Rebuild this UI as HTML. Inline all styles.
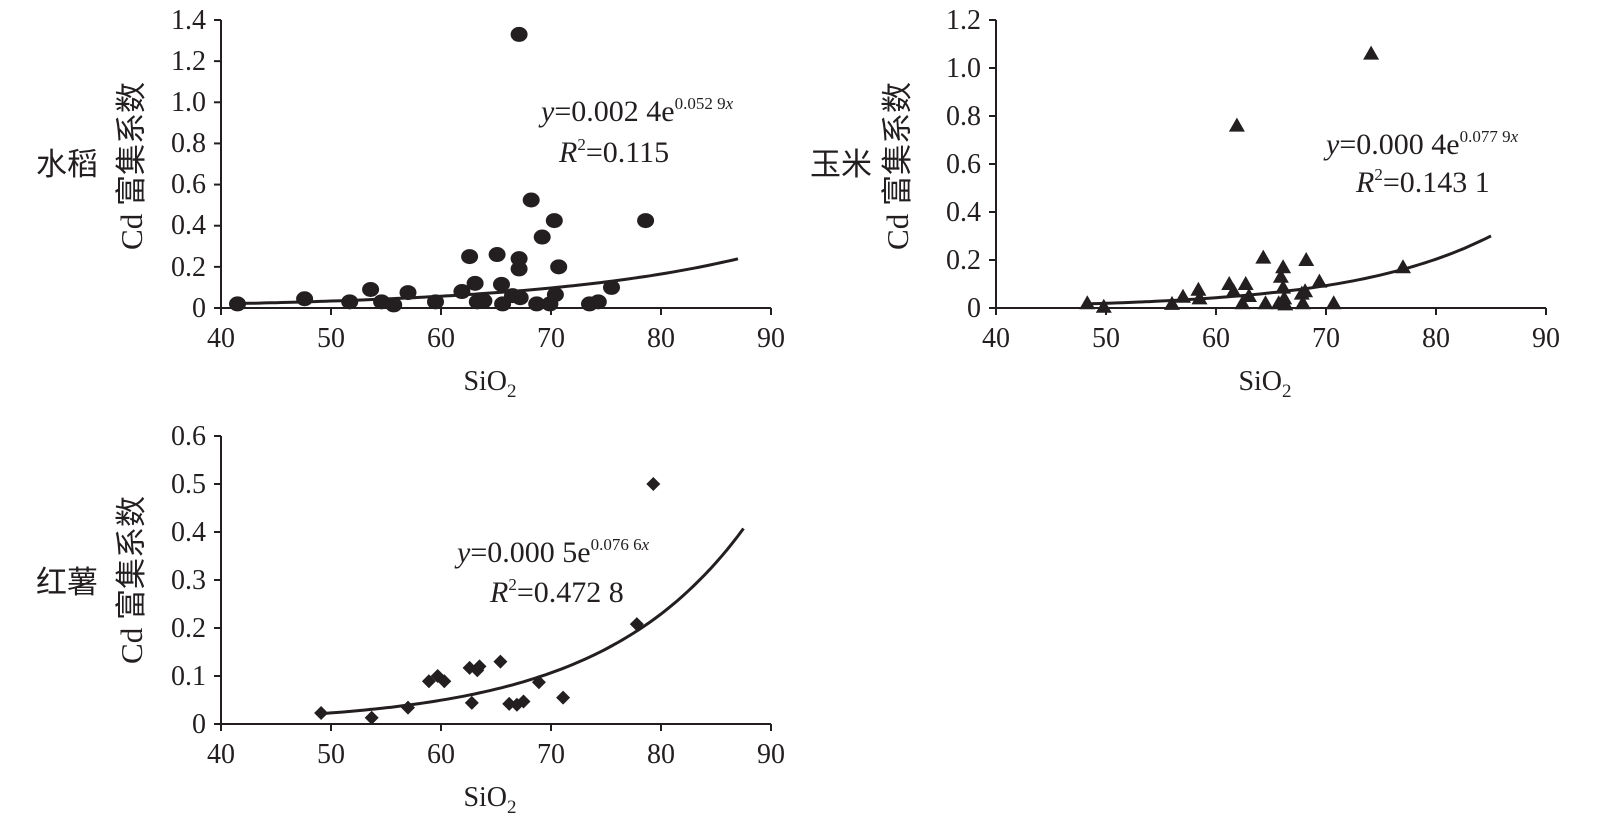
<!DOCTYPE html>
<html><head><meta charset="utf-8"><style>
html,body{margin:0;padding:0;background:#fff;}
svg{display:block;}
text{font-family:"Liberation Serif","Noto Serif CJK SC",serif;fill:#231f20;}
.t{font-size:28px;}
.e{font-size:30px;}
.c{font-family:"Liberation Serif","Noto Sans CJK SC",sans-serif;font-size:31px;}
</style></head><body>
<svg id="s" width="1600" height="823" viewBox="0 0 1600 823" xmlns="http://www.w3.org/2000/svg">
<g id="g"></g>
<g class="t" text-anchor="end">
<text x="206" y="29">1.4</text><text x="206" y="70">1.2</text><text x="206" y="111">1.0</text><text x="206" y="152">0.8</text><text x="206" y="193">0.6</text><text x="206" y="234">0.4</text><text x="206" y="276">0.2</text><text x="206" y="317">0</text>
</g>
<g class="t" text-anchor="middle">
<text x="221" y="347">40</text><text x="331" y="347">50</text><text x="441" y="347">60</text><text x="551" y="347">70</text><text x="661" y="347">80</text><text x="771" y="347">90</text>
<text x="490" y="390">SiO<tspan font-size="19" dy="7">2</tspan></text>
</g>
<text class="c" transform="translate(142,166) rotate(-90)" text-anchor="middle">Cd 富集系数</text>
<text class="c" x="36" y="175">水稻</text>
<text class="e" x="541" y="121"><tspan font-style="italic">y</tspan>=0.002 4e<tspan font-size="17" dy="-12">0.052 9<tspan font-style="italic">x</tspan></tspan></text>
<text class="e" x="559" y="162"><tspan font-style="italic">R</tspan><tspan font-size="17" dy="-12">2</tspan><tspan dy="12">=0.115</tspan></text>
<g class="t" text-anchor="end">
<text x="981" y="29">1.2</text><text x="981" y="77">1.0</text><text x="981" y="125">0.8</text><text x="981" y="173">0.6</text><text x="981" y="221">0.4</text><text x="981" y="269">0.2</text><text x="981" y="317">0</text>
</g>
<g class="t" text-anchor="middle">
<text x="996" y="347">40</text><text x="1106" y="347">50</text><text x="1216" y="347">60</text><text x="1326" y="347">70</text><text x="1436" y="347">80</text><text x="1546" y="347">90</text>
<text x="1265" y="390">SiO<tspan font-size="19" dy="7">2</tspan></text>
</g>
<text class="c" transform="translate(908,166) rotate(-90)" text-anchor="middle">Cd 富集系数</text>
<text class="c" x="810" y="175">玉米</text>
<text class="e" x="1326" y="154"><tspan font-style="italic">y</tspan>=0.000 4e<tspan font-size="17" dy="-12">0.077 9<tspan font-style="italic">x</tspan></tspan></text>
<text class="e" x="1356" y="192"><tspan font-style="italic">R</tspan><tspan font-size="17" dy="-12">2</tspan><tspan dy="12">=0.143 1</tspan></text>
<g class="t" text-anchor="end">
<text x="206" y="445">0.6</text><text x="206" y="493">0.5</text><text x="206" y="541">0.4</text><text x="206" y="589">0.3</text><text x="206" y="637">0.2</text><text x="206" y="685">0.1</text><text x="206" y="733">0</text>
</g>
<g class="t" text-anchor="middle">
<text x="221" y="763">40</text><text x="331" y="763">50</text><text x="441" y="763">60</text><text x="551" y="763">70</text><text x="661" y="763">80</text><text x="771" y="763">90</text>
<text x="490" y="806">SiO<tspan font-size="19" dy="7">2</tspan></text>
</g>
<text class="c" transform="translate(142,580) rotate(-90)" text-anchor="middle">Cd 富集系数</text>
<text class="c" x="36" y="593">红薯</text>
<text class="e" x="457" y="562"><tspan font-style="italic">y</tspan>=0.000 5e<tspan font-size="17" dy="-12">0.076 6<tspan font-style="italic">x</tspan></tspan></text>
<text class="e" x="490" y="602"><tspan font-style="italic">R</tspan><tspan font-size="17" dy="-12">2</tspan><tspan dy="12">=0.472 8</tspan></text>
</svg>
<script>
var g=document.getElementById('g'),h='';
function axes(x0,x1,y0,y1,nt){
 h+='<path d="M'+x0+' '+y1+'V'+y0+'H'+x1+'" stroke="#231f20" stroke-width="2" fill="none"/>';
 for(var i=0;i<=5;i++){var x=x0+i*110;h+='<line x1="'+x+'" y1="'+y0+'" x2="'+x+'" y2="'+(y0+7)+'" stroke="#231f20" stroke-width="2"/>';}
 for(var j=0;j<=nt;j++){var y=y0-(y0-y1)*j/nt;h+='<line x1="'+(x0-7)+'" y1="'+y+'" x2="'+x0+'" y2="'+y+'" stroke="#231f20" stroke-width="2"/>';}
}
axes(221,771,308,20,7);axes(996,1546,308,20,6);axes(221,771,724,436,6);
function curve(X,Y,a,b,lo,hi){var d='';for(var v=lo;v<=hi+0.001;v+=0.5){d+=(d?'L':'M')+X(v).toFixed(1)+' '+Y(a*Math.exp(b*v)).toFixed(1);}h+='<path d="'+d+'" stroke="#231f20" stroke-width="3" fill="none"/>';}
var X1=function(v){return 221+(v-40)*11},Y1=function(v){return 308-v/1.4*288};
var X2=function(v){return 996+(v-40)*11},Y2=function(v){return 308-v/1.2*288};
var Y3=function(v){return 724-v/0.6*288};
var p1=[[41.5,.02],[47.6,.045],[51.7,.03],[53.6,.09],[54.6,.03],[55.7,.015],[57,.075],[59.5,.03],[61.9,.08],[62.6,.25],[63.1,.12],[63.3,.03],[63.9,.035],[65.1,.26],[65.5,.115],[65.6,.02],[66.5,.06],[67.1,.24],[67.1,.19],[67.1,1.33],[67.2,.05],[68.2,.525],[68.7,.02],[69.2,.345],[69.9,.02],[70.3,.425],[70.4,.065],[70.7,.2],[73.5,.02],[74.3,.03],[75.5,.1],[78.6,.425]];
p1.forEach(function(p){h+='<ellipse cx="'+X1(p[0])+'" cy="'+Y1(p[1])+'" rx="8.5" ry="7.5" fill="#231f20"/>';});
curve(X1,Y1,0.0024,0.0529,41,87);
var p2=[[48.3,.02],[49.8,.005],[56,.017],[57,.047],[58.4,.076],[58.5,.04],[61.2,.1],[61.9,.76],[61.6,.07],[62.7,.1],[62.4,.02],[63,.05],[64.3,.21],[64.5,.02],[65.7,.02],[65.9,.13],[66.1,.17],[66.1,.085],[66.2,.04],[66.3,.015],[67.8,.06],[67.9,.02],[68.2,.2],[68.1,.07],[69.4,.11],[70.7,.02],[74.1,1.06],[77,.17]];
p2.forEach(function(p){var x=X2(p[0]),y=Y2(p[1]);h+='<path d="M'+x+' '+(y-8)+'L'+(x+8)+' '+(y+6)+'L'+(x-8)+' '+(y+6)+'Z" fill="#231f20"/>';});
curve(X2,Y2,0.0004,0.0779,48,85);
var p3=[[49.1,.023],[53.7,.013],[57,.034],[58.9,.089],[59.7,.1],[60.3,.089],[62.6,.117],[62.8,.044],[63.3,.112],[63.5,.12],[65.4,.13],[66.2,.042],[66.9,.04],[67.5,.047],[68.9,.087],[71.1,.055],[77.8,.208],[79.3,.5]];
p3.forEach(function(p){var x=X1(p[0]),y=Y3(p[1]);h+='<path d="M'+x+' '+(y-7)+'L'+(x+7)+' '+y+'L'+x+' '+(y+7)+'L'+(x-7)+' '+y+'Z" fill="#231f20"/>';});
curve(X1,Y3,0.0005,0.0766,49,87.5);
g.innerHTML=h;
</script>
</body></html>
